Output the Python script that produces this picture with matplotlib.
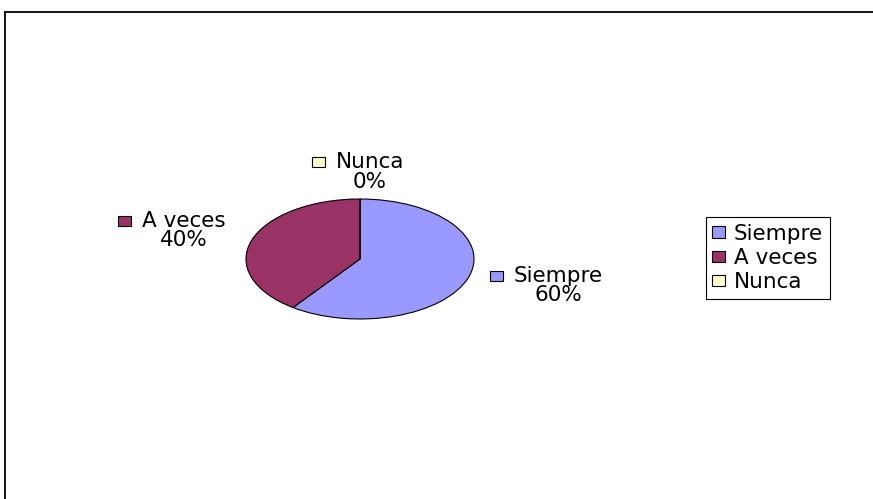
import numpy as np
import matplotlib.pyplot as plt
from matplotlib.patches import Patch, Rectangle
from matplotlib.lines import Line2D

labels = ['Siempre', 'A veces', 'Nunca']
values = [60, 40, 0]
colors = ['#9999FF', '#993366', '#FFFFCC']
# label block offsets from the wedge edge, in pixels
offsets = [(90, -8), (-68, 10), (10, 27)]

W, H = 873, 499
fig = plt.figure(figsize=(W / 100, H / 100), dpi=100)
fig.patch.set_facecolor('white')
plt.rcParams['font.family'] = ['DejaVu Sans']
fs = 15.5

# chart border (only top and left edges visible in the crop)
fig.add_artist(Line2D([5 / W, 1], [1 - 11.5 / H, 1 - 11.5 / H], color='black', lw=1.3))
fig.add_artist(Line2D([5 / W, 5 / W], [0, 1 - 11.5 / H], color='black', lw=1.3))

ax = fig.add_axes([246 / W, 1 - 319 / H, 228 / W, 120 / H])
wedges, _ = ax.pie(values, colors=colors, startangle=90, counterclock=False,
                   wedgeprops=dict(edgecolor='black', linewidth=0.8))
ax.set_aspect('auto')
ax.set_xlim(-1, 1)
ax.set_ylim(-1, 1)
ax.axis('off')

total = sum(values)
start = 90.0
texts = []
for lab, v, off in zip(labels, values, offsets):
  sweep = 360.0 * v / total
  mid = np.deg2rad(start - sweep / 2)
  start -= sweep
  t = ax.annotate(f'{lab}\n{v}%', xy=(np.cos(mid), np.sin(mid)),
                  xytext=off, textcoords='offset pixels',
                  ha='center', va='center', multialignment='center',
                  fontsize=fs, linespacing=0.95, annotation_clip=False)
  texts.append(t)

# small colour keys in front of the label words
fig.canvas.draw()
r = fig.canvas.get_renderer()
for t, c in zip(texts, colors):
  bb = t.get_window_extent(r)
  line_h = bb.height / 2
  sq_w, sq_h = 13, 10
  x0 = bb.x0 - 11 - sq_w
  y0 = bb.y1 - line_h / 2 - sq_h / 2
  fig.add_artist(Rectangle((x0 / W, y0 / H), sq_w / W, sq_h / H,
                           transform=fig.transFigure, facecolor=c,
                           edgecolor='black', linewidth=0.8))

handles = [Patch(facecolor=c, edgecolor='black', linewidth=0.8) for c in colors]
leg = fig.legend(handles, labels, loc='center left',
                 bbox_to_anchor=(706 / W, 1 - 258 / H), fontsize=fs,
                 frameon=True, fancybox=False, framealpha=1, edgecolor='black',
                 handlelength=0.6, handleheight=0.45, handletextpad=0.4,
                 labelspacing=0.2, borderpad=0.3, borderaxespad=0)
leg.get_frame().set_linewidth(0.8)

fig.savefig('out.png', dpi=100)
